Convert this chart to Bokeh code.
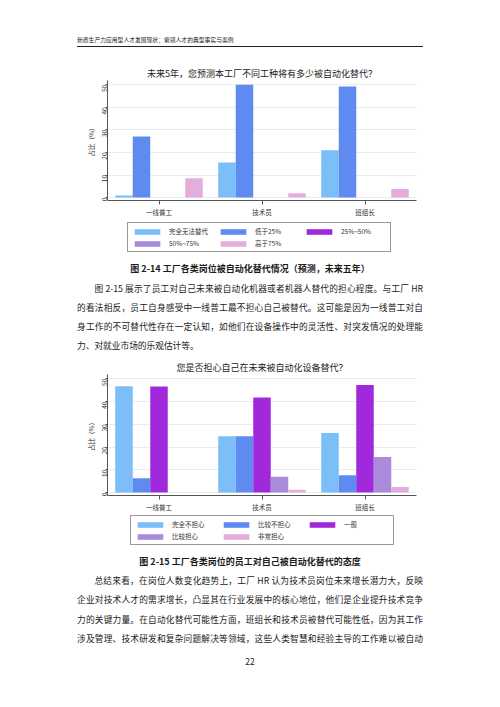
import math
from bokeh.plotting import figure
from bokeh.models import ColumnDataSource, FactorRange, Legend, LegendItem, Div
from bokeh.layouts import column
from bokeh.transform import dodge
from bokeh.embed import file_html
from bokeh.resources import INLINE

jobs = ["一线普工", "技术员", "班组长"]

# 图 2-14 工厂HR预测：未来5年被自动化替代的比例
replace_levels = ["完全无法替代", "低于25%", "25%~50%", "50%~75%", "高于75%"]
none_pct = [0.9, 15.5, 21.0]
below25 = [27.1, 50.0, 49.2]
p25_50 = [0, 0, 0]
p50_75 = [0, 0, 0]
above75 = [8.6, 1.9, 3.8]

# 图 2-15 员工自己的担心程度
worry_levels = ["完全不担心", "比较不担心", "一般", "比较担心", "非常担心"]
not_at_all = [46.7, 24.8, 26.2]
rather_not = [6.3, 24.8, 7.6]
neutral = [46.6, 41.8, 47.3]
rather_yes = [0, 6.9, 15.6]
very = [0, 1.2, 2.4]

y_ticks = [0, 10, 20, 30, 40, 50]
colors = ["#7BBEF8", "#5F8BF1", "#A02ADB", "#A98BDC", "#E4AEDC"]
offsets = [-0.34, -0.17, 0, 0.17, 0.34]

CJK = "Noto Sans CJK SC"
W = 500
LEFT = 107  # frame left edge, shared by charts and legend strips
RIGHT = W - LEFT - 309


def bar_chart(title, series, top, height):
    data = {"job": jobs}
    for i, vals in enumerate(series):
        data["s%d" % i] = vals
    source = ColumnDataSource(data)

    p = figure(
        x_range=FactorRange(*jobs),
        y_range=(-1.3, 51.9),
        width=W,
        height=height,
        min_border_left=LEFT,
        min_border_right=RIGHT,
        min_border_top=top,
        min_border_bottom=height - top - 122,
        title=title,
        toolbar_location=None,
        tools="",
        output_backend="svg",
    )
    for i in range(len(series)):
        p.vbar(
            x=dodge("job", offsets[i], range=p.x_range),
            top="s%d" % i,
            width=0.17,
            source=source,
            fill_color=colors[i],
            line_color=None,
        )

    p.title.text_font = CJK
    p.title.text_font_size = "9px"
    p.title.text_font_style = "normal"
    p.title.text_color = "#222222"
    p.title.align = "center"
    p.title.standoff = 2

    p.outline_line_color = None
    p.xgrid.grid_line_color = None
    p.ygrid.grid_line_color = "#E6EEF2"
    p.ygrid.ticker = y_ticks

    p.yaxis.ticker = y_ticks
    p.yaxis.major_label_orientation = math.pi / 2
    p.yaxis.axis_label = "占比（%）"
    p.yaxis.axis_label_text_font = CJK
    p.yaxis.axis_label_text_font_size = "6.5px"
    p.yaxis.axis_label_text_font_style = "normal"
    p.yaxis.axis_label_standoff = 1
    p.yaxis.major_label_standoff = 1
    p.yaxis.major_tick_out = 2
    p.yaxis.minor_tick_line_color = None

    p.xaxis.major_tick_out = 4
    p.xaxis.major_label_standoff = 2

    for ax in (p.xaxis[0], p.yaxis[0]):
        ax.major_tick_in = 0
        ax.axis_line_color = "#555555"
        ax.major_tick_line_color = "#555555"
        ax.major_label_text_font = CJK
        ax.major_label_text_font_size = "6.5px"
        ax.major_label_text_color = "#333333"
        ax.axis_label_text_color = "#333333"
    return p


def legend_strip(levels, dx, dy, height=36):
    # boxed legend under the chart, 3 columns, like the Stata export
    lp = figure(
        width=W,
        height=height,
        x_range=(0, 1),
        y_range=(0, 1),
        min_border_left=LEFT,
        min_border_right=RIGHT,
        min_border_top=0,
        min_border_bottom=0,
        x_axis_type=None,
        y_axis_type=None,
        toolbar_location=None,
        tools="",
        output_backend="svg",
    )
    lp.outline_line_color = None
    items = []
    for i, level in enumerate(levels):
        # zero-height proxy bar, only there to give the legend its swatch
        r = lp.vbar(x=[0], top=[0], width=0, fill_color=colors[i], line_color=None)
        items.append(LegendItem(label=level, renderers=[r]))
    legend = Legend(
        items=items,
        orientation="horizontal",
        ncols=3,
        location=(dx, dy),
        glyph_width=32,
        glyph_height=7,
        label_height=6,
        label_width=46,
        label_standoff=6,
        spacing=2,
        padding=3,
        margin=0,
        border_line_color="#333333",
        border_line_width=1,
        label_text_font=CJK,
        label_text_font_size="6.5px",
        label_text_color="#333333",
    )
    lp.add_layout(legend)
    return lp


def line(txt, top, size=8.7, indent=0, justify=True, bold=False, center=False, left=77, width=346):
    align = "center" if center else "justify"
    last = "justify" if justify and not center else ("center" if center else "left")
    weight = "bold" if bold else "normal"
    return (
        '<div style="position:absolute;left:%dpx;top:%.1fpx;width:%dpx;'
        "font-family:'%s';font-size:%.1fpx;line-height:12px;font-weight:%s;"
        'color:#1a1a1a;text-align:%s;text-align-last:%s;text-indent:%dem;">%s</div>'
        % (left, top - 6, width, CJK, size, weight, align, last, indent, txt)
    )


def page_div(parts, height):
    html = '<div style="position:relative;width:%dpx;height:%dpx;">%s</div>' % (
        W,
        height,
        "".join(parts),
    )
    return Div(text=html, width=W, height=height, margin=0)


header = page_div(
    [
        line("新质生产力应用型人才发展现状：紫领人才的典型事实与案例", 40, size=5.8, justify=False),
        '<div style="position:absolute;left:77px;top:46px;width:346px;border-top:1px solid #222;"></div>',
    ],
    55,
)

p1 = bar_chart(
    "未来5年，您预测本工厂不同工种将有多少被自动化替代？",
    [none_pct, below25, p25_50, p50_75, above75],
    25,
    164,
)
l1 = legend_strip(replace_levels, 20, 3)

mid = page_div(
    [
        line("图 2-14 工厂各类岗位被自动化替代情况（预测，未来五年）", 13.5, size=9, bold=True, center=True),
        line("图 2-15 展示了员工对自己未来被自动化机器或者机器人替代的担心程度。与工厂 HR", 34, indent=2),
        line("的看法相反，员工自身感受中一线普工最不担心自己被替代。这可能是因为一线普工对自", 53),
        line("身工作的不可替代性存在一定认知，如他们在设备操作中的灵活性、对突发情况的处理能", 72),
        line("力、对就业市场的乐观估计等。", 90.5, justify=False),
    ],
    100,
)

p2 = bar_chart(
    "您是否担心自己在未来被自动化设备替代？",
    [not_at_all, rather_not, neutral, rather_yes, very],
    19,
    159,
)
l2 = legend_strip(worry_levels, 23, 5)

bottom = page_div(
    [
        line("图 2-15 工厂各类岗位的员工对自己被自动化替代的态度", 12, size=9, bold=True, center=True),
        line("总结来看，在岗位人数变化趋势上，工厂 HR 认为技术员岗位未来增长潜力大，反映", 31, indent=2),
        line("企业对技术人才的需求增长，凸显其在行业发展中的核心地位，他们是企业提升技术竞争", 50),
        line("力的关键力量。在自动化替代可能性方面，班组长和技术员被替代可能性低，因为其工作", 70),
        line("涉及管理、技术研发和复杂问题解决等领域，这些人类智慧和经验主导的工作难以被自动", 89),
        line("22", 111, size=8.5, center=True),
    ],
    157,
)

layout = column(header, p1, l1, mid, p2, l2, bottom, spacing=0)

open("out.html", "w").write(file_html(layout, INLINE))
